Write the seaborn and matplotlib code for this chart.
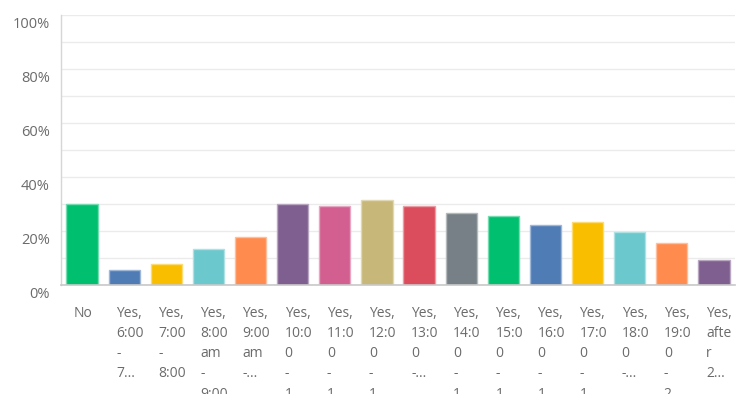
import matplotlib
matplotlib.use("Agg")
import matplotlib.pyplot as plt
import matplotlib.transforms as mtransforms
from matplotlib.colors import to_rgb
import seaborn as sns
import pandas as pd

# Answer choices and share of respondents (%)
categories = [
    "No",
    "Yes, 6:00 - 7:00 am",
    "Yes, 7:00 - 8:00 am",
    "Yes, 8:00 am - 9:00 am",
    "Yes, 9:00 am - 10:00 am",
    "Yes, 10:00 - 11:00",
    "Yes, 11:00 - 12:00",
    "Yes, 12:00 - 13:00",
    "Yes, 13:00 - 14:00",
    "Yes, 14:00 - 15:00",
    "Yes, 15:00 - 16:00",
    "Yes, 16:00 - 17:00",
    "Yes, 17:00 - 18:00",
    "Yes, 18:00 - 19:00",
    "Yes, 19:00 - 20:00",
    "Yes, after 20:00",
]
values = [30.1, 5.7, 7.7, 13.2, 17.7, 30.1, 29.1, 31.6,
          29.1, 26.7, 25.6, 22.1, 23.2, 19.6, 15.6, 9.1]

# Wrapped / truncated tick text as shown under each bar
tick_labels = [
    "No",
    "Yes,\n6:00\n-\n7...",
    "Yes,\n7:00\n-\n8:00",
    "Yes,\n8:00\nam\n-\n9:00",
    "Yes,\n9:00\nam\n-...",
    "Yes,\n10:0\n0\n-\n1...",
    "Yes,\n11:0\n0\n-\n1...",
    "Yes,\n12:0\n0\n-\n1...",
    "Yes,\n13:0\n0\n-...",
    "Yes,\n14:0\n0\n-\n1...",
    "Yes,\n15:0\n0\n-\n1...",
    "Yes,\n16:0\n0\n-\n1...",
    "Yes,\n17:0\n0\n-\n1...",
    "Yes,\n18:0\n0\n-...",
    "Yes,\n19:0\n0\n-\n2...",
    "Yes,\nafte\nr\n2...",
]

y_ticks = [0, 20, 40, 60, 80, 100]
y_tick_labels = ["0%", "20%", "40%", "60%", "80%", "100%"]

base_colors = ["#00BF6F", "#507CB6", "#F9BE00", "#6BC8CD", "#FF8B4F",
               "#7F5F90", "#D25F90", "#C7B879", "#DB4D5C", "#768086"]
palette = [base_colors[i % len(base_colors)] for i in range(len(categories))]

sns.set_theme(style="white")
plt.rcParams["font.family"] = ["Open Sans", "DejaVu Sans"]

W, H, DPI = 737, 394, 100
fig = plt.figure(figsize=(W / DPI, H / DPI), dpi=DPI)
ax = fig.add_axes([61 / W, (H - 285) / H, (735 - 61) / W, (285 - 15) / H])

df = pd.DataFrame({"answer": categories, "pct": values})
sns.barplot(data=df, x="answer", y="pct", hue="answer", palette=palette,
            legend=False, width=0.74, ax=ax, saturation=1)

# lighter outline around each bar
for patch in ax.patches:
    r, g, b = to_rgb(patch.get_facecolor())
    patch.set_edgecolor((r + (1 - r) * 0.45, g + (1 - g) * 0.45, b + (1 - b) * 0.45))
    patch.set_linewidth(1.0)

ax.set_xlim(-0.5, len(categories) - 0.5)
ax.set_ylim(0, 100)
ax.set_yticks(y_ticks)
ax.set_yticks(range(0, 101, 10), minor=True)
ax.set_yticklabels(y_tick_labels)
ax.yaxis.grid(True, which="both", color="#EBEBEB", linewidth=1.0)
ax.set_axisbelow(True)
ax.set_xlabel("")
ax.set_ylabel("")

for side in ("top", "right"):
    ax.spines[side].set_visible(False)
ax.spines["left"].set_color("#D6D6D6")
ax.spines["bottom"].set_color("#C8C8C8")
ax.spines["left"].set_linewidth(1.0)
ax.spines["bottom"].set_linewidth(1.2)

text_color = "#6B6B6B"
ax.tick_params(axis="y", which="both", length=0, pad=8, labelsize=10.5, labelcolor=text_color)
ax.tick_params(axis="x", length=0, pad=15, labelsize=10, labelcolor=text_color)

ax.set_xticks(range(len(categories)))
ax.set_xticklabels(tick_labels, ha="left", va="top", linespacing=1.47)

shift_x = mtransforms.ScaledTranslation(-8 / DPI, 0, fig.dpi_scale_trans)
for lbl in ax.get_xticklabels():
    lbl.set_transform(lbl.get_transform() + shift_x)

shift_y = mtransforms.ScaledTranslation(0, -8 / DPI, fig.dpi_scale_trans)
for lbl in ax.get_yticklabels():
    lbl.set_transform(lbl.get_transform() + shift_y)

fig.savefig("out.png", dpi=DPI, facecolor="white")
